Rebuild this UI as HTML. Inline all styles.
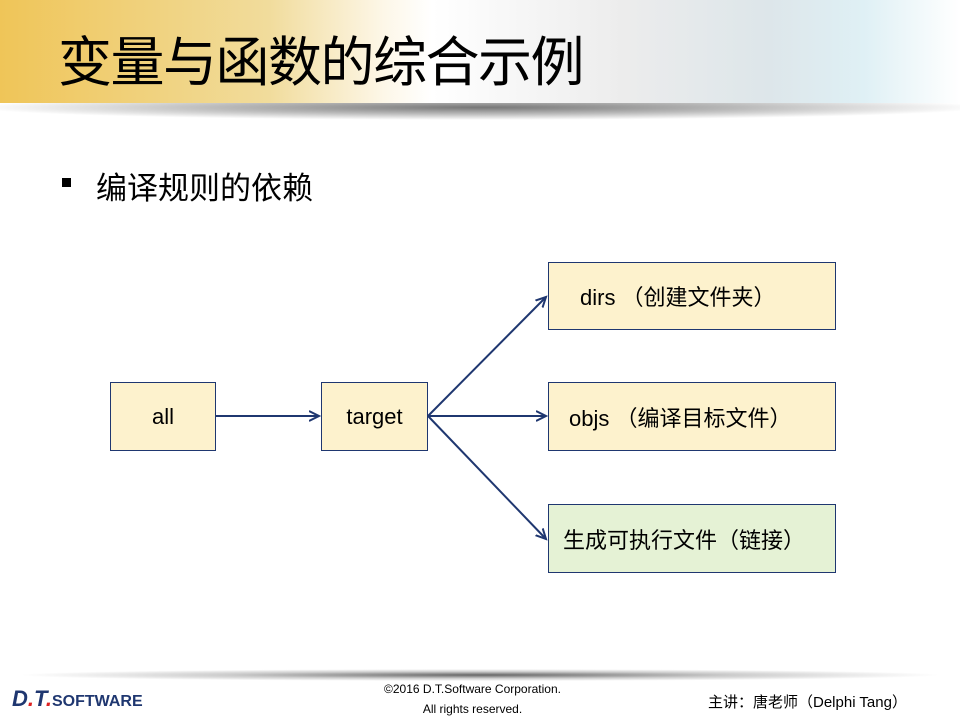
<!DOCTYPE html>
<html><head><meta charset="utf-8"><style>
body{margin:0;width:960px;height:720px;position:relative;overflow:hidden;background:#fff;font-family:"Liberation Sans","Noto Sans CJK SC",sans-serif}
.hdr{position:absolute;left:0;top:0;width:960px;height:103px;background:linear-gradient(90deg,#efc558 0%,#f1dc9c 28%,#fdf7e8 40%,#fff 45%,#ececec 65%,#dde6ea 80%,#dff0f5 90%,#fff 100%)}
.sh{position:absolute;left:0;top:103px;width:960px;height:22px;background:radial-gradient(ellipse 55% 60% at 50% 20%,#777 0%,#bbb 50%,#fff 95%)}
.title{position:absolute;left:58px;top:18px;font-size:54px;color:#000;letter-spacing:-1.5px}
.fsh{position:absolute;left:20px;top:669px;width:920px;height:12px;background:radial-gradient(ellipse 50% 50% at 50% 50%,#666 0%,#ccc 55%,#fff 100%)}
.box{position:absolute;border:1px solid #1f3770;background:#fdf2cd;font-size:22px;display:flex;align-items:center;box-sizing:border-box}
</style></head><body>
<div class="hdr"></div><div class="sh"></div>
<div class="title">变量与函数的综合示例</div>
<div style="position:absolute;left:62px;top:178px;width:9px;height:9px;background:#000"></div>
<div style="position:absolute;left:96px;top:163px;font-size:31px">编译规则的依赖</div>
<div class="box" style="left:110px;top:382px;width:106px;height:69px;justify-content:center">all</div>
<div class="box" style="left:321px;top:382px;width:107px;height:69px;justify-content:center">target</div>
<div class="box" style="left:548px;top:262px;width:288px;height:68px;padding-left:31px">dirs （创建文件夹）</div>
<div class="box" style="left:548px;top:382px;width:288px;height:69px;padding-left:20px">objs （编译目标文件）</div>
<div class="box" style="left:548px;top:504px;width:288px;height:69px;padding-left:14px;background:#e5f2d5">生成可执行文件（链接）</div>
<svg width="960" height="720" style="position:absolute;left:0;top:0">
<defs><marker id="a" markerWidth="12" markerHeight="12" refX="10" refY="6" orient="auto" markerUnits="userSpaceOnUse"><path d="M0,1 L10,6 L0,11" fill="none" stroke="#1f3770" stroke-width="2"/></marker></defs>
<g stroke="#1f3770" stroke-width="2" fill="none" marker-end="url(#a)">
<line x1="216" y1="416" x2="319" y2="416"/>
<line x1="428" y1="416" x2="546" y2="297"/>
<line x1="428" y1="416" x2="546" y2="416"/>
<line x1="428" y1="416" x2="546" y2="539"/>
</g></svg>
<div class="fsh"></div>
<div style="position:absolute;left:12px;top:686px;font-size:22px;font-weight:bold;font-style:italic;color:#1f3770">D<span style="color:#d22">.</span>T<span style="color:#d22">.</span><span style="font-style:normal;font-size:16px">SOFTWARE</span></div>
<div style="position:absolute;left:360px;top:679px;width:225px;text-align:center;font-size:12px;line-height:20px">©2016 D.T.Software Corporation.<br>All rights reserved.</div>
<div style="position:absolute;left:708px;top:691px;font-size:15px">主讲：唐老师（Delphi Tang）</div>
</body></html>
